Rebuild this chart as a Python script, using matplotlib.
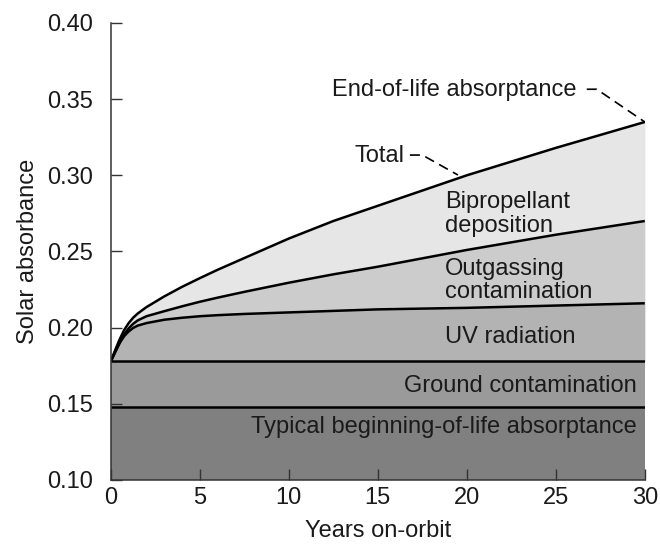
import matplotlib.pyplot as plt

plt.rcParams['font.family'] = ['Liberation Sans', 'DejaVu Sans']
plt.rcParams['font.size'] = 17

# Years on orbit and the cumulative solar absorbance at the top of each layer
years = [0, 0.25, 0.5, 0.75, 1, 1.25, 1.5, 2, 3, 4, 5, 6, 7.5, 10, 12.5, 15, 20, 25, 30]
bol = 0.148      # typical beginning-of-life absorptance
ground = 0.178   # + ground contamination
uv = [0.178, 0.184, 0.190, 0.1945, 0.1975, 0.1998, 0.2013, 0.203, 0.2052, 0.2065,
      0.2075, 0.2082, 0.209, 0.210, 0.211, 0.212, 0.213, 0.2145, 0.216]
outgas = [0.178, 0.1845, 0.1905, 0.1955, 0.1995, 0.2025, 0.2047, 0.2075, 0.2108, 0.2140,
          0.217, 0.2197, 0.2235, 0.2295, 0.235, 0.240, 0.251, 0.261, 0.270]
total = [0.178, 0.1855, 0.1925, 0.1985, 0.2030, 0.2065, 0.2092, 0.2135, 0.2205, 0.2268,
         0.2325, 0.2380, 0.2457, 0.2585, 0.270, 0.280, 0.300, 0.318, 0.335]

fig = plt.figure(figsize=(6.6, 5.47), dpi=100)
ax = fig.add_axes([0.168, 0.1225, 0.809, 0.8355])

n = len(years)
ax.fill_between(years, [0.10] * n, [bol] * n, color='#808080', lw=0)
ax.fill_between(years, [bol] * n, [ground] * n, color='#9a9a9a', lw=0)
ax.fill_between(years, [ground] * n, uv, color='#b3b3b3', lw=0)
ax.fill_between(years, uv, outgas, color='#cccccc', lw=0)
ax.fill_between(years, outgas, total, color='#e6e6e6', lw=0)

for ys in ([bol] * n, [ground] * n, uv, outgas, total):
    ax.plot(years, ys, color='black', lw=1.8, solid_capstyle='butt',
            solid_joinstyle='round')

# labels
labels = [
    ('End-of-life absorptance', 12.42, 0.3521, 'left'),
    ('Total', 13.71, 0.3089, 'left'),
    ('Bipropellant', 18.76, 0.2785, 'left'),
    ('deposition', 18.76, 0.2628, 'left'),
    ('Outgassing', 18.76, 0.2345, 'left'),
    ('contamination', 18.76, 0.2194, 'left'),
    ('UV radiation', 18.76, 0.1899, 'left'),
    ('Ground contamination', 29.55, 0.1577, 'right'),
    ('Typical beginning-of-life absorptance', 29.55, 0.1308, 'right'),
]
for txt, x, y, ha in labels:
    ax.text(x, y, txt, ha=ha, va='baseline', color='#1a1a1a')

# dashed leaders
ax.plot([26.74, 27.3, years[-1]], [0.3565, 0.3565, total[-1]],
        color='black', lw=1.2, dashes=(6, 3.5))
ax.plot([16.8, 17.5, 19.5], [0.3133, 0.3133, 0.3002],
        color='black', lw=1.2, dashes=(6, 3.5))

ax.set_xlim(0, 30)
ax.set_ylim(0.10, 0.40)
ax.set_xticks([0, 5, 10, 15, 20, 25, 30])
ax.set_yticks([0.10, 0.15, 0.20, 0.25, 0.30, 0.35, 0.40])
ax.set_yticklabels(['0.10', '0.15', '0.20', '0.25', '0.30', '0.35', '0.40'])
ax.tick_params(axis='both', direction='in', length=8, width=1.0, color='#333333',
               labelcolor='#1a1a1a')
ax.tick_params(axis='y', pad=13)
ax.tick_params(axis='x', pad=5)
for side in ('top', 'right'):
    ax.spines[side].set_visible(False)
for side in ('left', 'bottom'):
    ax.spines[side].set_color('#333333')
    ax.spines[side].set_linewidth(1.1)

ax.set_xlabel('Years on-orbit', labelpad=8, color='#1a1a1a')
ax.set_ylabel('Solar absorbance', labelpad=6, color='#1a1a1a')

fig.savefig('out.png', dpi=100)
